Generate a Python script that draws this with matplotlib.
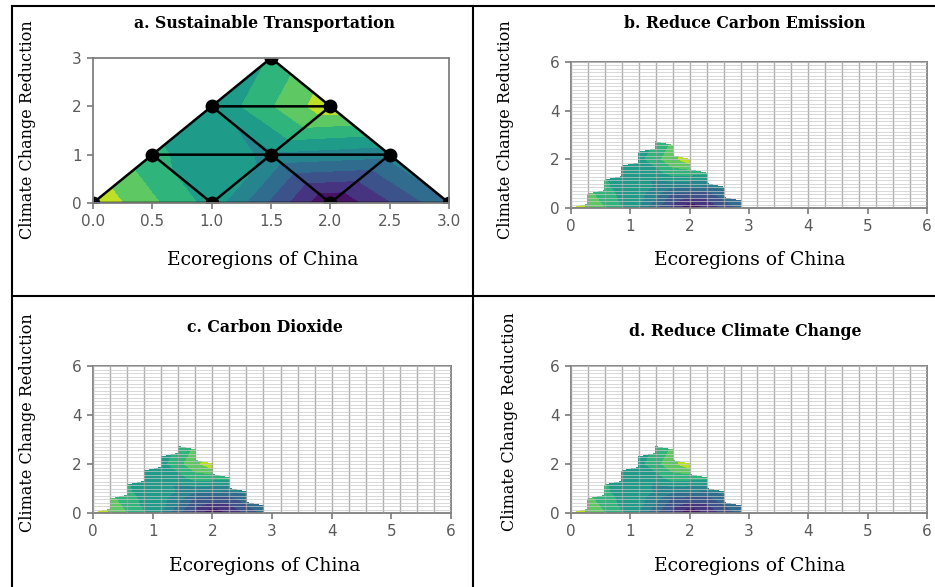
import numpy as np
import matplotlib
matplotlib.use("Agg")
import matplotlib.pyplot as plt
import matplotlib.tri as mtri
from matplotlib.lines import Line2D

# triangular mesh nodes (ecoregion, climate change reduction) and their values
node_x = [0.0, 1.0, 2.0, 3.0, 0.5, 1.5, 2.5, 1.0, 2.0, 1.5]
node_y = [0.0, 0.0, 0.0, 0.0, 1.0, 1.0, 1.0, 2.0, 2.0, 3.0]
node_z = [8.8, 5.6, 0.0, 3.8, 6.2, 4.8, 4.3, 5.1, 8.7, 6.1]
triangles = [[0, 1, 4], [1, 5, 4], [1, 2, 5], [2, 6, 5], [2, 3, 6],
             [4, 5, 7], [5, 8, 7], [5, 6, 8], [7, 8, 9]]

titles = ["a. Sustainable Transportation", "b. Reduce Carbon Emission",
          "c. Carbon Dioxide", "d. Reduce Climate Change"]
xlabel = "Ecoregions of China"
ylabel = "Climate Change Reduction"

levels = [0, 1, 2, 3, 4, 5, 6, 7, 8, 10]
W, H = 935, 587

fig = plt.figure(figsize=(W / 100, H / 100), dpi=100)

def box(l, t, r, b):
    return [l / W, 1 - b / H, (r - l) / W, (b - t) / H]

def style(ax):
    for s in ax.spines.values():
        s.set_color("#7f7f7f")
        s.set_linewidth(1.3)
    ax.tick_params(length=4, width=1.2, color="#7a7a7a", labelcolor="#5a5a5a",
                   labelsize=11, pad=4)

tri = mtri.Triangulation(node_x, node_y, triangles)

# panel a: the mesh itself
ax = fig.add_axes(box(93, 58, 449, 203))
ax.tricontourf(tri, node_z, levels=levels, cmap="viridis")
ax.triplot(tri, color="black", lw=1.8, marker="o", markersize=9)
ax.set_xlim(0, 3)
ax.set_ylim(0, 3)
ax.set_xticks([0, 0.5, 1, 1.5, 2, 2.5, 3])
ax.set_xticklabels(["0.0", "0.5", "1.0", "1.5", "2.0", "2.5", "3.0"])
ax.set_yticks([0, 1, 2, 3])
style(ax)

# panels b-d: the same field sampled on a regular grid
xg = np.linspace(0, 6, 22)
yg = np.linspace(0, 6, 43)
X, Y = np.meshgrid(xg, yg)
Z = mtri.LinearTriInterpolator(tri, node_z)(X, Y)

for pos in [box(571, 62, 927, 208), box(93, 366, 451, 513), box(571, 366, 927, 513)]:
    ax = fig.add_axes(pos)
    ax.contourf(X, Y, Z, levels=levels, cmap="viridis")
    ax.vlines(xg, 0, 6, color="#9a9a9a", lw=1.0, alpha=0.8, zorder=3)
    ax.hlines(yg, 0, 6, color="#c8c8c8", lw=0.7, alpha=0.7, zorder=3)
    ax.set_xlim(0, 6)
    ax.set_ylim(0, 6)
    ax.set_xticks(range(7))
    ax.set_yticks([0, 2, 4, 6])
    style(ax)

# panel titles and axis labels
serif = "DejaVu Serif"
title_pos = [(265, 24), (745, 24), (265, 328), (745, 332)]
xlab_pos = [(263, 260), (750, 260), (265, 566), (750, 566)]
ylab_pos = [(28, 130), (505, 130), (28, 423), (510, 422)]
for t, (tx, ty), (xx, xy), (yx, yy) in zip(titles, title_pos, xlab_pos, ylab_pos):
    fig.text(tx / W, 1 - ty / H, t, ha="center", va="center", family=serif,
             fontweight="bold", fontsize=11.3)
    fig.text(xx / W, 1 - xy / H, xlabel, ha="center", va="center", family=serif,
             fontsize=13.5)
    fig.text(yx / W, 1 - yy / H, ylabel, ha="center", va="center", family=serif,
             fontsize=11.5, rotation=90)

# frame around the four panels
for xs, ys in [([12, 12], [6, H]), ([12, W], [6, 6]), ([473, 473], [6, H]),
               ([12, W], [296, 296])]:
    fig.add_artist(Line2D([x / W for x in xs], [1 - y / H for y in ys],
                          color="black", lw=1.5))

plt.savefig("out.png", dpi=100)
